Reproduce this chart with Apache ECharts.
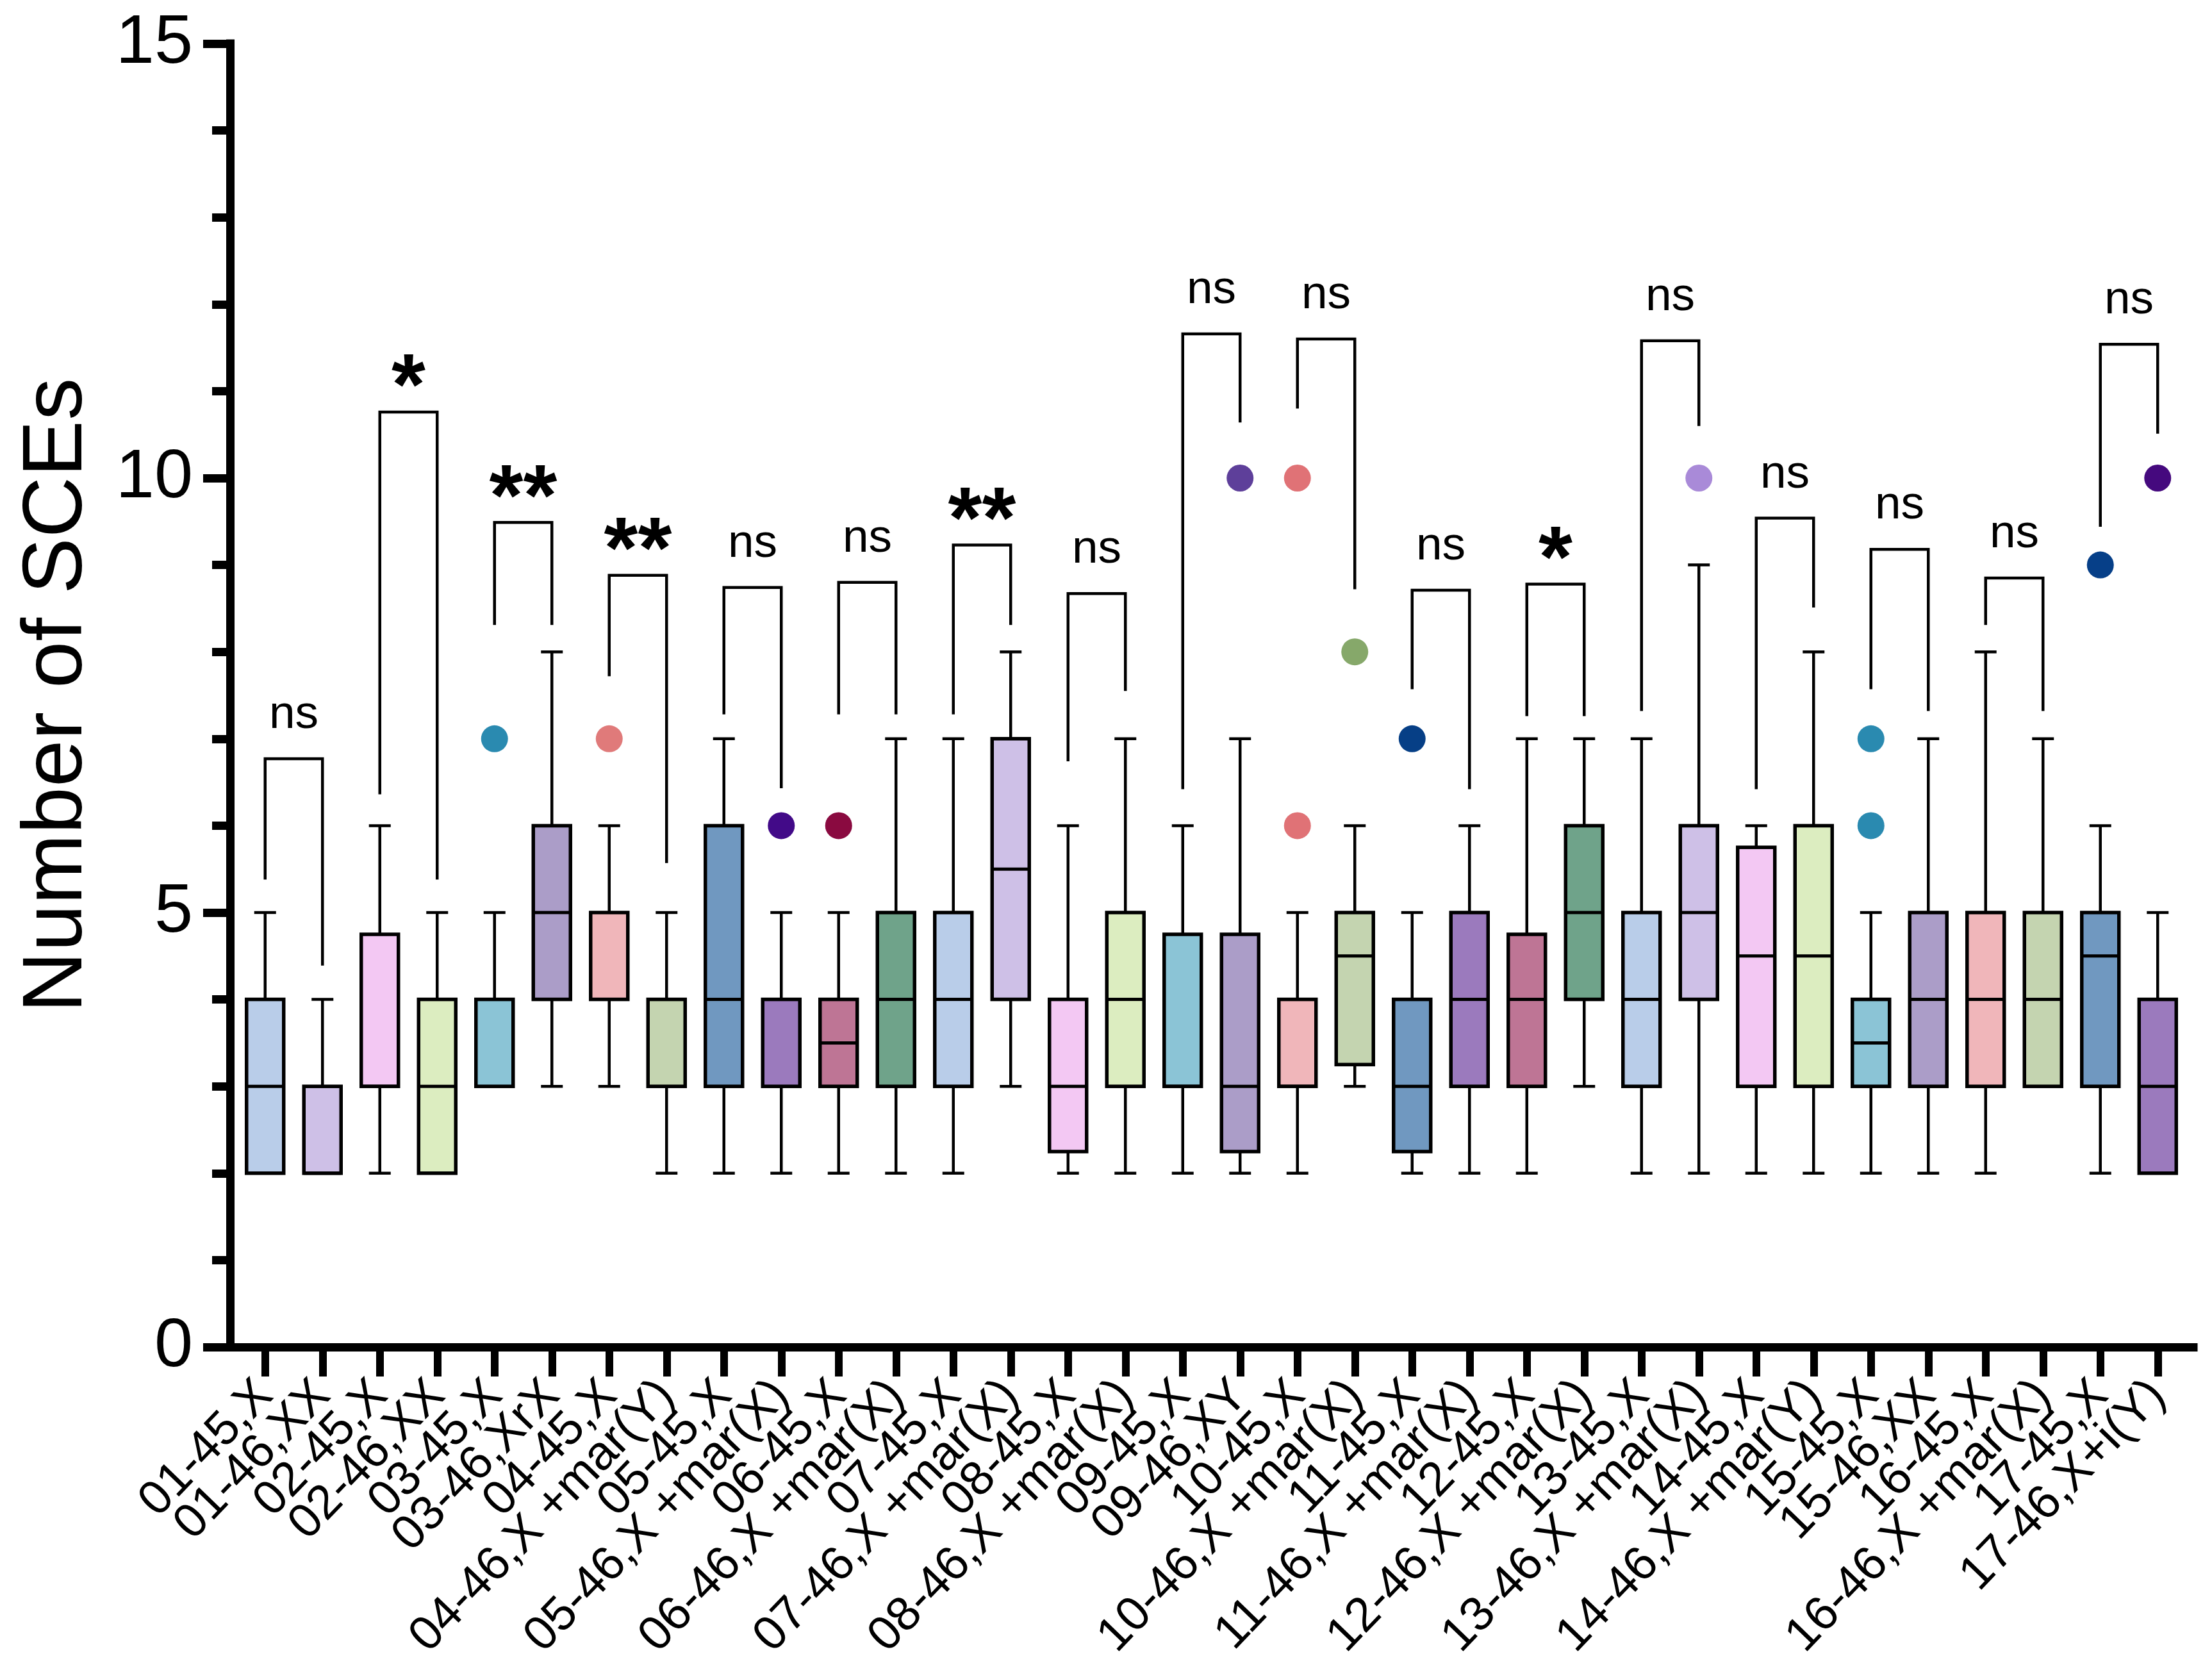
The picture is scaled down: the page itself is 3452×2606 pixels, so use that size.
<!DOCTYPE html>
<html>
<head>
<meta charset="utf-8">
<script src="https://cdn.jsdelivr.net/npm/echarts@6/dist/echarts.min.js"></script>
<style>
html,body{margin:0;padding:0;background:#fff;}
#chart{width:3452px;height:2606px;}
</style>
</head>
<body>
<div id="chart"></div>
<script>
// ---------- data ----------
const categories = ['01-45,X','01-46,XX','02-45,X','02-46,XX','03-45,X','03-46,XrX','04-45,X','04-46,X +mar(Y)',
  '05-45,X','05-46,X +mar(X)','06-45,X','06-46,X +mar(X)','07-45,X','07-46,X +mar(X)','08-45,X','08-46,X +mar(X)',
  '09-45,X','09-46,XY','10-45,X','10-46,X +mar(X)','11-45,X','11-46,X +mar(X)','12-45,X','12-46,X +mar(X)',
  '13-45,X','13-46,X +mar(X)','14-45,X','14-46,X +mar(Y)','15-45,X','15-46,XX','16-45,X','16-46,X +mar(X)',
  '17-45,X','17-46,X+i(Y)'];
const whiskerMin = [2,2,2,2,3,3,3,2, 2,2,2,2,2,3,2,2, 2,2,2,3,2,2,2,3, 2,2,2,2,2,2,2,3, 2,2];
const q1Values   = [2,2,3,2,3,4,4,3, 3,3,3,3,3,4,2.25,3, 3,2.25,3,3.25,2.25,3,3,4, 3,4,3,3,3,3,3,3, 3,2];
const medians    = [3,2,3,3,4,5,4,4, 4,4,3.5,4,4,5.5,3,4, 3,3,3,4.5,3,4,4,5, 4,5,4.5,4.5,3.5,4,4,4, 4.5,3];
const q3Values   = [4,3,4.75,4,4,6,5,4, 6,4,4,5,5,7,4,5, 4.75,4.75,4,5,4,5,4.75,6, 5,6,5.75,6,4,5,5,5, 5,4];
const whiskerMax = [5,4,6,5,5,8,6,5, 7,5,5,7,7,8,6,7, 6,7,5,6,5,6,7,7, 7,9,6,8,5,7,8,7, 6,5];

const outlierCats = ['03-45,X','04-45,X','05-46,X +mar(X)','06-45,X','09-46,XY','10-45,X','10-45,X',
  '10-46,X +mar(X)','11-45,X','13-46,X +mar(X)','15-45,X','15-45,X','17-45,X','17-46,X+i(Y)'];
const outlierValues = [7,7,6,6,10,10,6,8,7,10,7,6,9,10];

// significance brackets (pairs of adjacent groups)
const bracketLeftEnd  = [5.38,6.36,8.31,7.72,7.28,7.28,7.28,6.74,6.42,10.8,7.57,7.26,7.32,6.42,7.57,8.31,9.44];
const bracketRightEnd = [4.39,5.38,8.31,5.57,6.43,7.28,8.31,7.55,10.64,8.72,6.42,7.26,10.6,8.51,7.32,7.32,10.51];
const bracketTop      = [6.77,10.76,9.49,8.88,8.74,8.8,9.23,8.67,11.66,11.6,8.71,8.78,11.58,9.54,9.18,8.85,11.54];
const sigLabels       = ['ns','*','**','**','ns','ns','**','ns','ns','ns','ns','*','ns','ns','ns','ns','ns'];

const yTicks = [0, 5, 10, 15];

// ---------- styles ----------
const boxColors = ['#b9cde9','#cec0e7','#f3c8f3','#dcedc0','#8bc4d6','#ab9dc8',
                   '#f0b6ba','#c4d4b0','#7098c0','#9b7abd','#be7595','#6fa38a'];
const outlierColors = ['#2a8ab0','#e07a7a','#420a88','#8a0a40','#5e3f9a','#e07276','#e07276',
                       '#86a86a','#063f86','#a98ad8','#2a8ab0','#2a8ab0','#063f88','#45097e'];
const FONT = '"Liberation Sans", Arial, Helvetica, sans-serif';

const boxData = categories.map((c, i) => [i, whiskerMin[i], q1Values[i], medians[i], q3Values[i], whiskerMax[i]]);
const outlierData = outlierCats.map((c, k) => ({
  value: [c, outlierValues[k]],
  itemStyle: { color: outlierColors[k], opacity: 1 }
}));
const bracketData = bracketTop.map((t, k) => [2 * k, 2 * k + 1, bracketLeftEnd[k], bracketRightEnd[k], t, k]);

const chart = echarts.init(document.getElementById('chart'), null, { renderer: 'canvas' });

const option = {
  animation: false,
  backgroundColor: '#ffffff',
  textStyle: { fontFamily: FONT },
  grid: [
    { left: 359, top: 68, width: 3064, height: 2034 },
    { left: 369, top: 68, width: 3043, height: 2034 }
  ],
  xAxis: [
    {
      gridIndex: 0, type: 'value', min: 0, max: 1,
      axisLine: { show: true, onZero: false, lineStyle: { color: '#000', width: 13, cap: 'square' } },
      axisTick: { show: false }, axisLabel: { show: false }, splitLine: { show: false }
    },
    {
      gridIndex: 1, type: 'category', data: categories,
      axisLine: { show: false },
      axisTick: { show: true, alignWithLabel: true, interval: 0, length: 46, lineStyle: { color: '#000', width: 12 } },
      axisLabel: { interval: 0, rotate: 46, fontSize: 75, fontFamily: FONT, color: '#000', margin: 64 },
      splitLine: { show: false }
    }
  ],
  yAxis: [
    {
      gridIndex: 0, type: 'value', min: 0, max: 15, interval: 5,
      axisLine: { show: true, onZero: false, lineStyle: { color: '#000', width: 13, cap: 'square' } },
      axisTick: { show: true, length: 42, lineStyle: { color: '#000', width: 13 } },
      minorTick: { show: true, splitNumber: 5, length: 28, lineStyle: { color: '#000', width: 13 } },
      axisLabel: { fontSize: 108, fontFamily: FONT, color: '#000', margin: 58,
                   formatter: v => (yTicks.indexOf(v) >= 0 ? String(v) : '') },
      splitLine: { show: false }, minorSplitLine: { show: false },
      name: 'Number of SCEs', nameLocation: 'middle', nameGap: 202,
      nameTextStyle: { fontSize: 132, fontFamily: FONT, color: '#000' }
    },
    { gridIndex: 1, type: 'value', min: 0, max: 15, show: false }
  ],
  series: [
    {
      type: 'custom', name: 'brackets', xAxisIndex: 1, yAxisIndex: 1,
      data: bracketData,
      encode: { x: [0, 1], y: [2, 3, 4] },
      renderItem: function (params, api) {
        const pL = api.coord([api.value(0), api.value(2)]);
        const pR = api.coord([api.value(1), api.value(3)]);
        const tL = api.coord([api.value(0), api.value(4)]);
        const tR = api.coord([api.value(1), api.value(4)]);
        const lab = sigLabels[api.value(5)];
        const isStar = lab.indexOf('*') >= 0;
        const cx = (tL[0] + tR[0]) / 2;
        return {
          type: 'group',
          children: [
            { type: 'polyline', shape: { points: [pL, tL, tR, pR] },
              style: { stroke: '#000', lineWidth: 4.5, fill: null, lineJoin: 'miter' } },
            { type: 'text',
              style: { text: lab, x: cx, y: isStar ? tL[1] - 34 : tL[1] - 68,
                       align: 'center', verticalAlign: 'middle',
                       font: isStar ? ('bold 136px ' + FONT) : ('73px ' + FONT), fill: '#000' } }
          ]
        };
      }
    },
    {
      type: 'custom', name: 'boxes', xAxisIndex: 1, yAxisIndex: 1,
      data: boxData,
      encode: { x: 0, y: [1, 2, 3, 4, 5] },
      renderItem: function (params, api) {
        const i = api.value(0);
        const vMin = api.value(1), vQ1 = api.value(2), vMed = api.value(3), vQ3 = api.value(4), vMax = api.value(5);
        const pMin = api.coord([i, vMin]), pQ1 = api.coord([i, vQ1]), pMed = api.coord([i, vMed]);
        const pQ3 = api.coord([i, vQ3]), pMax = api.coord([i, vMax]);
        const x = pMed[0];
        const bw = 58, cw = 34;
        const ls = { stroke: '#000', lineWidth: 4.5 };
        const ch = [];
        if (vMax > vQ3) {
          ch.push({ type: 'line', shape: { x1: x, y1: pQ3[1], x2: x, y2: pMax[1] }, style: ls });
          ch.push({ type: 'line', shape: { x1: x - cw / 2, y1: pMax[1], x2: x + cw / 2, y2: pMax[1] }, style: ls });
        }
        if (vMin < vQ1) {
          ch.push({ type: 'line', shape: { x1: x, y1: pQ1[1], x2: x, y2: pMin[1] }, style: ls });
          ch.push({ type: 'line', shape: { x1: x - cw / 2, y1: pMin[1], x2: x + cw / 2, y2: pMin[1] }, style: ls });
        }
        ch.push({ type: 'rect', shape: { x: x - bw / 2, y: pQ3[1], width: bw, height: pQ1[1] - pQ3[1] },
                  style: { fill: boxColors[i % boxColors.length], stroke: '#000', lineWidth: 5.5 } });
        ch.push({ type: 'line', shape: { x1: x - bw / 2, y1: pMed[1], x2: x + bw / 2, y2: pMed[1] }, style: { stroke: '#000', lineWidth: 5 } });
        return { type: 'group', children: ch };
      }
    },
    {
      type: 'scatter', name: 'outliers', xAxisIndex: 1, yAxisIndex: 1,
      symbol: 'circle', symbolSize: 42,
      itemStyle: { opacity: 1 },
      data: outlierData
    }
  ]
};
chart.setOption(option);
</script>
</body>
</html>
